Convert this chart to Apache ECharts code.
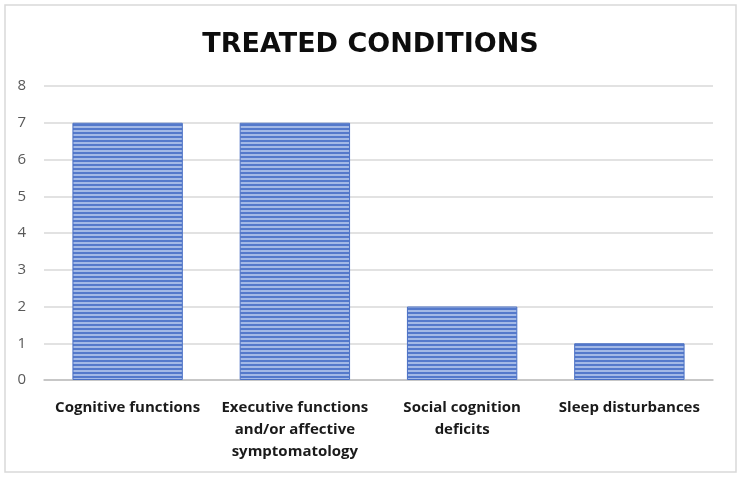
<!DOCTYPE html>
<html>
<head>
<meta charset="utf-8">
<style>
  html, body { margin: 0; padding: 0; background: #fff; }
  #main { width: 741px; height: 480px; }
</style>
<script src="https://cdn.jsdelivr.net/npm/echarts@6/dist/echarts.min.js"></script>
</head>
<body>
<div id="main"></div>
<script>
// chart data
var categories = ['Cognitive functions', 'Executive functions\nand/or affective\nsymptomatology', 'Social cognition\ndeficits', 'Sleep disturbances'];
var counts = [7, 7, 2, 1];
var yTicks = [0, 1, 2, 3, 4, 5, 6, 7, 8];

// horizontal stripe fill like the excel pattern
function stripePattern() {
  var c = document.createElement('canvas');
  c.width = 8;
  c.height = 4;
  var ctx = c.getContext('2d');
  ctx.fillStyle = '#5479cb';
  ctx.fillRect(0, 0, 8, 4);
  ctx.fillStyle = '#a3b9e6';
  ctx.fillRect(0, 2, 8, 2);
  return c;
}

var chart = echarts.init(document.getElementById('main'));

var option = {
  backgroundColor: '#ffffff',
  animation: false,
  title: {
    text: 'TREATED CONDITIONS',
    left: 'center',
    top: 26,
    textStyle: {
      fontFamily: 'DejaVu Sans',
      fontWeight: 'bold',
      fontSize: 27,
      color: '#0d0d0d'
    }
  },
  graphic: [{
    type: 'rect',
    shape: { x: 5, y: 5, width: 731, height: 467 },
    style: { fill: 'none', stroke: '#d9d9d9', lineWidth: 1.5 },
    silent: true
  }],
  grid: {
    left: 44,
    right: 28,
    top: 86,
    bottom: 100
  },
  xAxis: {
    type: 'category',
    data: categories,
    axisTick: { show: false },
    axisLine: { lineStyle: { color: '#bfbfbf', width: 1.5 } },
    axisLabel: {
      interval: 0,
      margin: 17,
      lineHeight: 22,
      fontFamily: 'Open Sans',
      fontWeight: 'bold',
      fontSize: 15,
      color: '#1a1a1a'
    }
  },
  yAxis: {
    type: 'value',
    min: yTicks[0],
    max: yTicks[yTicks.length - 1],
    interval: 1,
    axisLine: { show: false },
    axisTick: { show: false },
    splitLine: { lineStyle: { color: '#d9d9d9', width: 1.5 } },
    axisLabel: {
      margin: 18,
      fontFamily: 'Open Sans',
      fontSize: 15,
      color: '#595959'
    }
  },
  series: [{
    type: 'bar',
    data: counts,
    barWidth: '66%',
    itemStyle: {
      color: { image: stripePattern(), repeat: 'repeat' },
      borderColor: '#4a70c4',
      borderWidth: 1
    }
  }]
};

chart.setOption(option);
</script>
</body>
</html>
